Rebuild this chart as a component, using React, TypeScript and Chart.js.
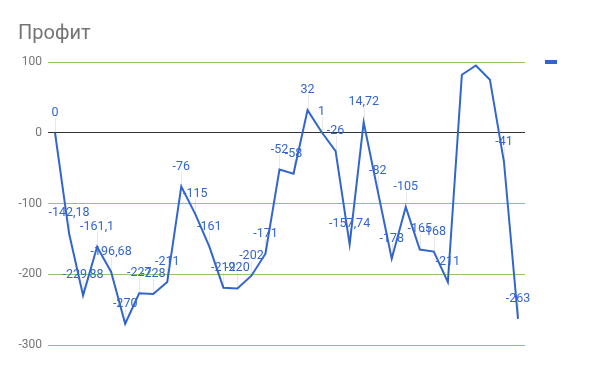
import React, { useEffect, useRef } from "react";
import { Chart, registerables } from "chart.js";

Chart.register(...registerables);

const categories: string[] = Array.from({ length: 34 }, (_, i) => String(i + 1));
const profit: number[] = [
  0, -142.18, -229.88, -161.1, -196.68, -270, -227, -228, -211, -76,
  -115, -161, -219, -220, -202, -171, -52, -58, 32, 1,
  -26, -157.74, 14.72, -82, -178, -105, -165, -168, -211, 82,
  95, 75, -41, -263,
];
const annotations: (string | null)[] = [
  "0", "-142,18", "-229,88", "-161,1", "-196,68", "-270", "-227", "-228", "-211", "-76",
  "-115", "-161", "-219", "-220", "-202", "-171", "-52", "-58", "32", "1",
  "-26", "-157,74", "14,72", "-82", "-178", "-105", "-165", "-168", "-211", null,
  null, null, "-41", "-263",
];
const yTicks: number[] = [-300, -200, -100, 0, 100];
const title = "Профит";

const BLUE = "#3366cc";
const GREEN = "rgb(146,198,108)";

export default function App() {
  const ref = useRef<HTMLCanvasElement | null>(null);
  useEffect(() => {
    if (!ref.current) return;
    const overlay = {
      id: "overlay",
      afterDatasetsDraw(chart: any) {
        const ctx = chart.ctx;
        const meta = chart.getDatasetMeta(0);
        ctx.save();
        ctx.strokeStyle = "rgba(0,0,0,0.09)";
        ctx.lineWidth = 1;
        meta.data.forEach((pt: any, i: number) => {
          if (annotations[i] == null) return;
          ctx.beginPath();
          ctx.moveTo(Math.round(pt.x) + 0.5, pt.y);
          ctx.lineTo(Math.round(pt.x) + 0.5, pt.y - 15);
          ctx.stroke();
        });
        ctx.font = "12.5px Roboto";
        ctx.fillStyle = BLUE;
        ctx.textAlign = "center";
        ctx.textBaseline = "alphabetic";
        meta.data.forEach((pt: any, i: number) => {
          const t = annotations[i];
          if (t == null) return;
          ctx.fillText(t, pt.x, pt.y - 17);
        });
        ctx.restore();
      },
      afterDraw(chart: any) {
        const ctx = chart.ctx;
        ctx.save();
        ctx.font = "20px Roboto";
        ctx.fillStyle = "#757575";
        ctx.textAlign = "left";
        ctx.textBaseline = "alphabetic";
        ctx.fillText(title, 18, 39);
        ctx.fillStyle = BLUE;
        ctx.fillRect(545, 60, 12, 4);
        ctx.restore();
      },
    };
    const chart = new Chart(ref.current, {
      type: "line",
      data: {
        labels: categories,
        datasets: [
          {
            label: "",
            data: profit,
            borderColor: BLUE,
            backgroundColor: BLUE,
            borderWidth: 2,
            pointRadius: 0,
            tension: 0,
          },
        ],
      },
      options: {
        animation: false,
        responsive: false,
        layout: { padding: { left: 0, right: 75, top: 62, bottom: 26 } },
        plugins: {
          legend: { display: false },
          title: { display: false },
          tooltip: { enabled: false },
        },
        scales: {
          x: {
            type: "category",
            offset: true,
            display: false,
          },
          y: {
            min: -300,
            max: 100,
            afterFit(scale: any) {
              scale.width = 48;
            },
            afterBuildTicks(scale: any) {
              scale.ticks = yTicks.map((v) => ({ value: v }));
            },
            border: { display: false },
            grid: {
              drawTicks: false,
              color: (c: any) => (c.tick && c.tick.value === 0 ? "#333333" : GREEN),
              lineWidth: 1,
            },
            ticks: {
              padding: 6,
              color: "#757575",
              font: { family: "Roboto", size: 12 },
            },
          },
        },
      },
      plugins: [overlay],
    });
    return () => chart.destroy();
  }, []);
  return (
    <div style={{ position: "fixed", left: 0, top: 0, width: 600, height: 371, background: "#fff" }}>
      <canvas ref={ref} width={600} height={371} style={{ width: 600, height: 371 }} />
    </div>
  );
}
